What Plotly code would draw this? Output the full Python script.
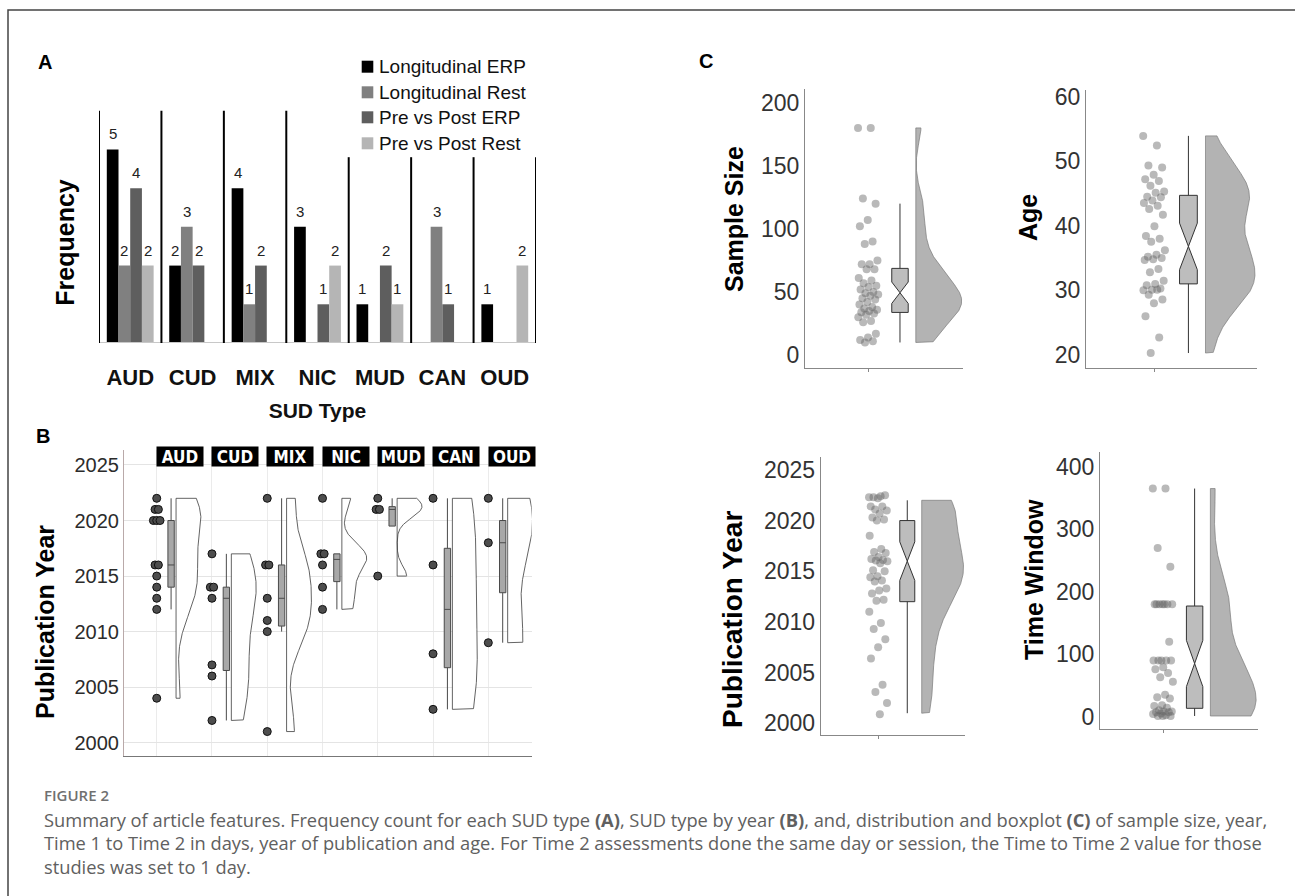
import numpy as np
import plotly.graph_objects as go

W, H = 1295, 896
FONT = "Liberation Sans, Arial, Helvetica, sans-serif"
CAP_FONT = "Open Sans, Lato, sans-serif"

# ---------------- Panel A data ----------------
sud_types = ["AUD", "CUD", "MIX", "NIC", "MUD", "CAN", "OUD"]
series_names = ["Longitudinal ERP", "Longitudinal Rest", "Pre vs Post ERP", "Pre vs Post Rest"]
long_erp = [5, 2, 4, 3, 1, 0, 1]
long_rest = [2, 3, 1, 0, 0, 3, 0]
prepost_erp = [4, 2, 2, 1, 2, 1, 0]
prepost_rest = [2, 0, 0, 2, 1, 0, 2]

# ---------------- Panel B data (publication year by SUD type) ----------------
aud_years = [2022, 2021, 2021, 2020, 2020, 2020, 2016, 2016, 2015, 2014, 2013, 2012, 2004]
cud_years = [2017, 2014, 2014, 2013, 2007, 2006, 2002]
mix_years = [2022, 2016, 2016, 2013, 2011, 2010, 2001]
nic_years = [2022, 2017, 2017, 2016, 2014, 2012]
mud_years = [2022, 2021, 2021, 2015]
can_years = [2022, 2016, 2008, 2003]
oud_years = [2022, 2018, 2009]
year_ticks = [2000, 2005, 2010, 2015, 2020, 2025]

# ---------------- Panel C data ----------------
sample_size = [180, 180, 124, 120, 107, 102, 90, 88, 75, 72, 72, 68, 68, 61, 59, 57, 55, 54,
               52, 50, 49, 48, 47, 45, 44, 42, 40, 38, 37, 36, 35, 34, 33, 32, 30, 27, 26,
               17, 14, 12, 11, 10]
sample_size_box = [33.8, 49.4, 68.7, 10, 120, 8.5]   # q1, median, q3, whisker lo, whisker hi, notch
sample_ticks = [0, 50, 100, 150, 200]

age = [53.9, 52.4, 49.3, 49.0, 47.9, 47.2, 46.9, 46.2, 45.3, 45.1, 44.5, 44.4, 43.9, 43.5,
       43.1, 42.6, 41.7, 39.9, 38.4, 38.0, 37.5, 36.2, 35.5, 35.2, 35.0, 34.8, 34.7, 33.3,
       32.8, 31.5, 31.0, 30.8, 30.3, 30.1, 30.0, 30.1, 29.3, 28.6, 28.0, 26.0, 22.7, 20.3]
age_box = [31.0, 36.8, 44.7, 20.3, 53.9, 3.6]
age_ticks = [20, 30, 40, 50, 60]

pub_year_points = [2022.3, 2022.4, 2022.3, 2022.5, 2022.2, 2021.4, 2021.4, 2021.1, 2021.0,
                   2020.7, 2020.3, 2020.1, 2020.0, 2018.5, 2017.2, 2016.9, 2016.8, 2016.4,
                   2016.2, 2016.1, 2016.05, 2016.0, 2015.8, 2015.1, 2015.0, 2014.5, 2014.4,
                   2014.1, 2014.0, 2013.3, 2013.1, 2012.8, 2012.2, 2012.1, 2011.0, 2009.9,
                   2009.3, 2008.3, 2007.5, 2006.4, 2003.8, 2003.1, 2002.0, 2000.9]

time_window = [365, 365, 270, 240, 180, 180, 180, 180, 180, 180, 180, 120, 90, 90, 90, 90,
               90, 79, 76, 70, 63, 56, 35, 31, 29, 18, 17, 14, 10, 8, 8, 7, 7, 5, 4, 2, 1, 1, 1]
time_window_box = [13.3, 85, 177, 1, 365, 37]
time_ticks = [0, 100, 200, 300, 400]

bar_colors = ["#000000", "#808080", "#5e5e5e", "#b5b5b5"]


# ---------------- helpers ----------------
def xdom(a, b):
    return [a / W, b / W]


def ydom(top, bottom):
    return [1 - bottom / H, 1 - top / H]


def px(x):
    return x / W


def py(y):
    return 1 - y / H


def bw_nrd0(v):
    v = np.asarray(v, float)
    sd = v.std(ddof=1)
    q75, q25 = np.percentile(v, [75, 25])
    lo = min(sd, (q75 - q25) / 1.34)
    if lo <= 0:
        lo = sd if sd > 0 else 1.0
    return 0.9 * lo * len(v) ** -0.2


def half_violin(v, base, maxw, n=300):
    v = np.asarray(v, float)
    bw = bw_nrd0(v)
    grid = np.linspace(v.min(), v.max(), n)
    dens = np.exp(-0.5 * ((grid[:, None] - v[None, :]) / bw) ** 2).sum(1)
    dens = dens / dens.max()
    xs = np.concatenate([[base], base + maxw * dens, [base, base]])
    ys = np.concatenate([[grid[0]], grid, [grid[-1], grid[0]]])
    return xs, ys


def box_stats(v):
    v = np.sort(np.asarray(v, float))
    q1, med, q3 = np.percentile(v, [25, 50, 75])
    iqr = q3 - q1
    lo = v[v >= q1 - 1.5 * iqr].min()
    hi = v[v <= q3 + 1.5 * iqr].max()
    return [q1, med, q3, min(lo, q1), max(hi, q3), 1.58 * iqr / np.sqrt(len(v))]


def dup_offsets(vals, step):
    seen = {}
    out = []
    for v in vals:
        j = seen.get(v, 0)
        seen[v] = j + 1
        m = vals.count(v)
        out.append((j - (m - 1) / 2) * step)
    return out


def spread(n, width):
    return [((i * 0.6180339887) % 1 - 0.5) * width for i in range(n)]


fig = go.Figure()

# ---------------- Panel A: grouped bars ----------------
series_vals = [long_erp, long_rest, prepost_erp, prepost_rest]
for name, vals, col in zip(series_names, series_vals, bar_colors):
    fig.add_trace(go.Bar(
        x=sud_types, y=vals, name=name,
        marker=dict(color=col, line=dict(width=0)),
        showlegend=False, xaxis="x", yaxis="y", hoverinfo="skip"))

# ---------------- Panel B: raincloud by SUD type ----------------
years_by_type = [aud_years, cud_years, mix_years, nic_years, mud_years, can_years, oud_years]
for k, yrs in enumerate(years_by_type, start=1):
    vx, vy = half_violin(yrs, k + 0.35, 0.45)
    fig.add_trace(go.Scatter(x=vx, y=vy, mode="lines", fill="toself", fillcolor="white",
                             line=dict(color="#3c3c3c", width=0.8), showlegend=False,
                             xaxis="x2", yaxis="y2", hoverinfo="skip"))

stats_b = [box_stats(y) for y in years_by_type]
fig.add_trace(go.Box(
    x=[k + 0.26 for k in range(1, 8)],
    q1=[s[0] for s in stats_b], median=[s[1] for s in stats_b], q3=[s[2] for s in stats_b],
    lowerfence=[s[3] for s in stats_b], upperfence=[s[4] for s in stats_b],
    width=0.115, whiskerwidth=0, boxpoints=False, fillcolor="#a8a8a8",
    line=dict(color="#4a4a4a", width=1), showlegend=False, xaxis="x2", yaxis="y2", hoverinfo="skip"))

bx, by = [], []
for k, yrs in enumerate(years_by_type, start=1):
    offs = dup_offsets(yrs, 0.06)
    bx += [k + o for o in offs]
    by += yrs
fig.add_trace(go.Scatter(x=bx, y=by, mode="markers",
                         marker=dict(size=8, color="#4d4d4d", line=dict(color="#111", width=1)),
                         showlegend=False, xaxis="x2", yaxis="y2", hoverinfo="skip"))

# ---------------- Panel C: four rainclouds ----------------
all_years = [y for yrs in years_by_type for y in yrs]
pub_box = box_stats(all_years)

c_panels = [
    ("x3", "y3", sample_size, sample_size, sample_size_box),
    ("x4", "y4", age, age, age_box),
    ("x5", "y5", pub_year_points, all_years, pub_box),
    ("x6", "y6", time_window, time_window, time_window_box),
]
for xa, ya, pts, dist, bs in c_panels:
    vx, vy = half_violin(dist, 0.70, 0.29)
    fig.add_trace(go.Scatter(x=vx, y=vy, mode="lines", fill="toself", fillcolor="#b3b3b3",
                             line=dict(color="#7a7a7a", width=0.7), showlegend=False,
                             xaxis=xa, yaxis=ya, hoverinfo="skip"))
    fig.add_trace(go.Box(
        x=[0.60], q1=[bs[0]], median=[bs[1]], q3=[bs[2]], lowerfence=[bs[3]], upperfence=[bs[4]],
        notched=True, notchspan=[bs[5]], notchwidth=0.5, width=0.104, whiskerwidth=0,
        boxpoints=False, fillcolor="#bdbdbd", line=dict(color="#333", width=1),
        showlegend=False, xaxis=xa, yaxis=ya, hoverinfo="skip"))
    fig.add_trace(go.Scatter(
        x=[0.40 + o for o in spread(len(pts), 0.13)], y=pts, mode="markers",
        marker=dict(size=8, color="rgba(100,100,100,0.45)", line=dict(width=0)),
        showlegend=False, xaxis=xa, yaxis=ya, hoverinfo="skip"))

# ---------------- layout ----------------
c_tickfont = dict(family=FONT, size=23, color="#333")


def c_x(a, b, anchor):
    return dict(domain=xdom(a, b), anchor=anchor, range=[0, 1], tickvals=[0.40], ticktext=[""],
                ticks="outside", ticklen=3, tickcolor="#888", showline=True, linecolor="#888",
                linewidth=1, showgrid=False, zeroline=False)


def c_y(top, bottom, anchor, rng, tv):
    return dict(domain=ydom(top, bottom), anchor=anchor, range=rng, tickvals=tv, ticks="",
                showline=True, linecolor="#888", linewidth=1, showgrid=False, zeroline=False,
                tickfont=c_tickfont)


BARGAP = 0.25
layout = dict(
    width=W, height=H, margin=dict(l=0, r=0, t=0, b=0, pad=0, autoexpand=False),
    paper_bgcolor="white", plot_bgcolor="white",
    barmode="group", bargap=BARGAP, bargroupgap=0,
    xaxis=dict(domain=xdom(99, 536), anchor="y", type="category", range=[-0.5, 6.5],
               showline=False, showgrid=False, zeroline=False, ticks="",
               tickfont=dict(family=FONT, size=22, color="#111", weight="bold"),
               ticklabelstandoff=19,
               title=dict(text="SUD Type", font=dict(family=FONT, size=21, color="#111", weight="bold"),
                          standoff=14)),
    yaxis=dict(domain=ydom(103, 343), anchor="x", range=[0, 6.2], visible=False),
    xaxis2=dict(domain=xdom(124, 531.7), anchor="y2", range=[0.408, 7.785],
                tickvals=list(range(1, 8)), showticklabels=False, ticks="",
                showgrid=True, gridcolor="#ebebeb", gridwidth=1, zeroline=False,
                showline=True, linecolor="#777", linewidth=1),
    yaxis2=dict(domain=ydom(450, 756), anchor="x2", range=[1998.8, 2026.35], tickvals=year_ticks,
                showgrid=True, gridcolor="#e4e4e4", gridwidth=1, zeroline=False,
                showline=True, linecolor="#b9a9a9", linewidth=1, ticks="",
                tickfont=dict(family=FONT, size=20, color="#2b2b2b")),
    xaxis3=c_x(805, 963.3, "y3"),
    yaxis3=c_y(89.3, 367.7, "x3", [-10, 210.6], sample_ticks),
    xaxis4=c_x(1086, 1256.7, "y4"),
    yaxis4=c_y(90, 367.7, "x4", [18.03, 61], age_ticks),
    xaxis5=c_x(820.7, 965, "y5"),
    yaxis5=c_y(456.7, 735, "x5", [1998.85, 2026.3], year_ticks),
    xaxis6=c_x(1100, 1257.7, "y6"),
    yaxis6=c_y(451.7, 729.3, "x6", [-20.3, 424], time_ticks),
)

shapes = []
# figure frame
shapes.append(dict(type="rect", xref="paper", yref="paper", x0=px(8), x1=1.02, y0=-0.05, y1=py(10),
                   line=dict(color="#444", width=1.5), fillcolor="rgba(0,0,0,0)", layer="above"))
# panel A baseline and separators
shapes.append(dict(type="line", xref="x", yref="y", x0=-0.5, x1=6.5, y0=0, y1=0,
                   line=dict(color="#c8c8c8", width=2)))
for i in range(8):
    top = 6.0 if i <= 3 else 4.8
    shapes.append(dict(type="line", xref="x", yref="y", x0=i - 0.5, x1=i - 0.5, y0=0, y1=top,
                       line=dict(color="#000", width=2)))
# manual legend squares
legend_rows = [66.7, 92.3, 117.3, 143.3]
for yy, col in zip(legend_rows, bar_colors):
    shapes.append(dict(type="rect", xref="paper", yref="paper", x0=px(361.7), x1=px(373.3),
                       y0=py(yy + 6), y1=py(yy - 6), fillcolor=col, line=dict(width=0)))

annotations = []
# bar value labels (placed above each bar of the grouped layout)
bar_w = (1 - BARGAP) / len(series_vals)
for i, vals in enumerate(series_vals):
    for c, v in enumerate(vals):
        if v > 0:
            annotations.append(dict(xref="x", yref="y", x=c + (i - 1.5) * bar_w, y=v,
                                    xanchor="center", yanchor="bottom", yshift=5,
                                    text=str(v), showarrow=False,
                                    font=dict(family=FONT, size=15, color="#222")))

for yy, name in zip(legend_rows, series_names):
    annotations.append(dict(xref="paper", yref="paper", x=px(377), y=py(yy), xanchor="left",
                            yanchor="middle", text=name, showarrow=False,
                            font=dict(family=FONT, size=19, color="#111")))

# panel letters
for letter, (lx, ly) in zip("ABC", [(45, 62), (43, 436), (706, 61)]):
    annotations.append(dict(xref="paper", yref="paper", x=px(lx), y=py(ly), xanchor="center",
                            yanchor="middle", text=letter, showarrow=False,
                            font=dict(family=FONT, size=20, color="#000", weight="bold")))

# y titles
for txt, (tx, ty), sz in [("Frequency", (64.7, 242), 25), ("Publication Year", (45, 622), 25),
                          ("Sample Size", (734, 219), 25), ("Age", (1028, 218), 25),
                          ("Publication Year", (732, 620), 28), ("Time Window", (1034, 580), 25)]:
    annotations.append(dict(xref="paper", yref="paper", x=px(tx), y=py(ty), xanchor="center",
                            yanchor="middle", text=txt, textangle=-90, showarrow=False,
                            font=dict(family=FONT, size=sz, color="#000", weight="bold")))

# strip labels panel B
for k, t in enumerate(sud_types, start=1):
    annotations.append(dict(xref="x2", yref="paper", x=k + 0.42, y=py(456), xanchor="center",
                            yanchor="middle", text=t, showarrow=False, bgcolor="#000",
                            width=46, height=19, borderpad=0,
                            font=dict(family="Liberation Sans Narrow, Arial Narrow, DejaVu Sans Condensed, Liberation Sans",
                                      size=17, color="white", weight="bold")))

# caption
annotations.append(dict(xref="paper", yref="paper", x=px(41.7), y=py(795), xanchor="left",
                        yanchor="middle", text="FIGURE 2", showarrow=False,
                        font=dict(family=CAP_FONT, size=15, color="#707070", weight=600)))
cap_lines = [
    "Summary of article features. Frequency count for each SUD type <b>(A)</b>, SUD type by year <b>(B)</b>, and, distribution and boxplot <b>(C)</b> of sample size, year,",
    "Time 1 to Time 2 in days, year of publication and age. For Time 2 assessments done the same day or session, the Time to Time 2 value for those",
    "studies was set to 1 day.",
]
for yy, line in zip([819, 842, 866], cap_lines):
    annotations.append(dict(xref="paper", yref="paper", x=px(41.7), y=py(yy), xanchor="left",
                            yanchor="middle", text=line, showarrow=False,
                            font=dict(family=CAP_FONT, size=18.3, color="#606060")))

layout["shapes"] = shapes
layout["annotations"] = annotations
fig.update_layout(**layout)

fig.write_html("out.html", config={"displayModeBar": False},
               post_script="document.body.style.margin='0';document.body.style.overflow='hidden';")
